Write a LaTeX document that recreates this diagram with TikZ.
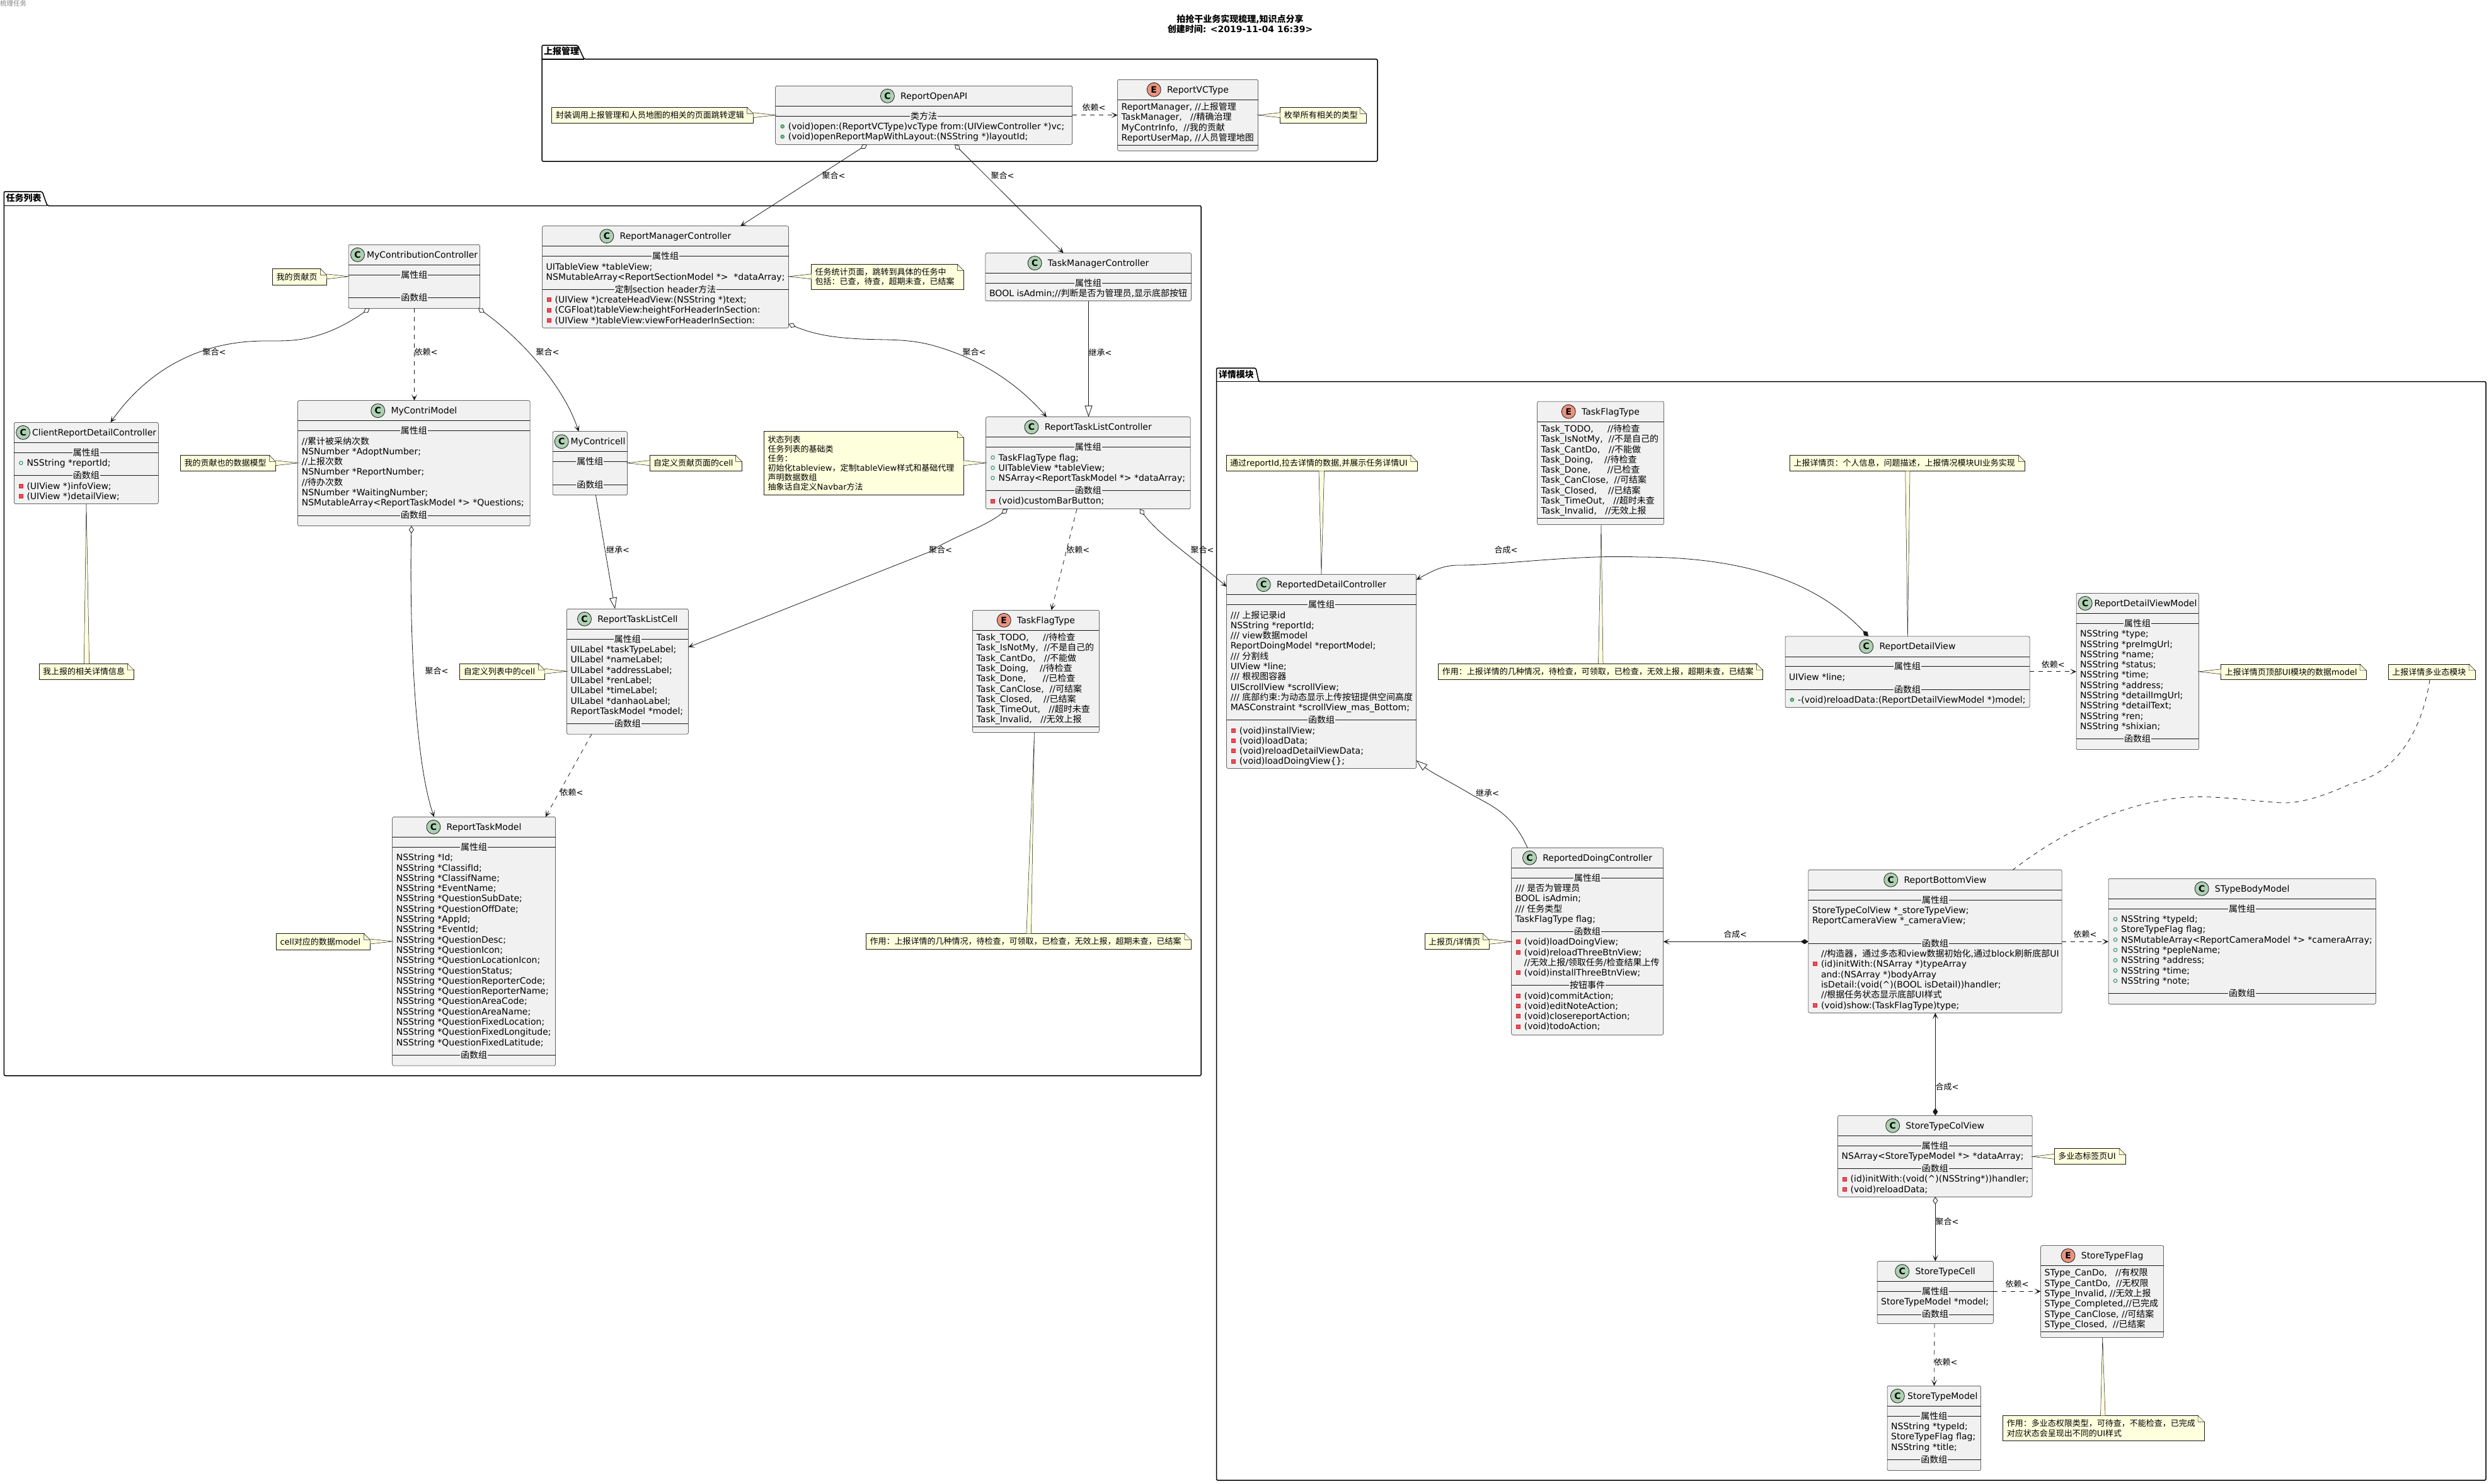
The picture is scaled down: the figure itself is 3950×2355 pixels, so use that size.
\documentclass[tikz,border=0pt]{standalone}
\usepackage{fontspec}
\usetikzlibrary{arrows.meta}
\setmainfont{DejaVu Sans}
\newfontfamily\cjkf{Noto Sans CJK SC}
% CJK characters switch to the CJK family automatically
\newXeTeXintercharclass\cjkclass
\newcount\cc
\cc="4E00 \loop\ifnum\cc<"A000 \XeTeXcharclass\cc=\cjkclass \advance\cc 1 \repeat
\cc="3000 \loop\ifnum\cc<"3040 \XeTeXcharclass\cc=\cjkclass \advance\cc 1 \repeat
\cc="FF00 \loop\ifnum\cc<"FFF0 \XeTeXcharclass\cc=\cjkclass \advance\cc 1 \repeat
\XeTeXinterchartoks 0 \cjkclass={\begingroup\cjkf}
\XeTeXinterchartoks 4095 \cjkclass={\begingroup\cjkf}
\XeTeXinterchartoks \cjkclass 0={\endgroup}
\XeTeXinterchartoks \cjkclass 4095={\endgroup}
\XeTeXinterchartokenstate=1

\definecolor{ln}{HTML}{181818}
\definecolor{boxf}{HTML}{F1F1F1}
\definecolor{notef}{HTML}{FEFFDD}
\definecolor{cgreen}{HTML}{ADD1B2}
\definecolor{cred}{HTML}{EB937F}
\definecolor{pubs}{HTML}{038048}
\definecolor{pubf}{HTML}{84BE84}
\definecolor{pris}{HTML}{C82930}
\definecolor{prif}{HTML}{F24D5C}
\newcommand\bodyf{\fontsize{14}{16.3}\selectfont}
\newcommand\notefn{\fontsize{13}{15.1}\selectfont}
\newcommand\ttlfn{\fontsize{14}{16.3}\selectfont\bfseries}

\tikzset{
  myhead/.tip={Stealth[length=10pt,width=9pt,inset=5.5pt]},
  odiam/.tip={Diamond[open,fill=white,length=12pt,width=8pt]},
  fdiam/.tip={Diamond[length=12pt,width=8pt]},
  tritip/.tip={Triangle[open,fill=white,length=18pt,width=12pt]},
  classbox/.style={draw=ln,fill=boxf,line width=.5pt,rounded corners=2.5pt,inner sep=0pt,outer sep=0pt,anchor=north west},
  thin line/.style={draw=ln,line width=.5pt},
  txt/.style={font=\bodyf,anchor=base west,inner sep=0pt,text=black},
  septxt/.style={font=\bodyf,anchor=base,inner xsep=1pt,inner ysep=0pt,text=black,fill=boxf},
  notebox/.style={draw=ln,fill=notef,line width=.5pt,inner sep=0pt,outer sep=0pt,anchor=north west},
  notetxt/.style={font=\notefn,anchor=west,inner sep=0pt,align=left,text=black},
  conn/.style={draw=ln,line width=.8pt},
  dashconn/.style={conn,dash pattern=on 7pt off 7pt},
  lbl/.style={font=\notefn,inner sep=0pt,text=black},
  pkg/.style={draw=black,line width=1.5pt,rounded corners=2pt},
  pkglbl/.style={font=\ttlfn,anchor=base west,inner sep=0pt,text=black},
}

\newcount\tcnt
\newcommand\stepn{\global\advance\tcnt by 1\relax}
\newcommand\umlhead[8]{% name x1 y1 x2 y2 fill letter title
  \pgfmathsetmacro\bw{#4-#2}\pgfmathsetmacro\bh{#5-#3}
  \node[classbox,minimum width=\bw pt,minimum height=\bh pt] (#1) at (#2,#3) {};
  \draw[thin line] (#2,#3+32) -- (#4,#3+32);
  \pgfinterruptpicture\setbox0=\hbox{\bodyf #8}\xdef\twv{\the\wd0}\endpgfinterruptpicture
  \pgfmathsetmacro\tw{\twv}
  \pgfmathsetmacro\hgap{3.4+min((\bw-\tw-32.5)/4,6.2)}
  \pgfmathsetmacro\hleft{(\bw-22-\hgap-\tw)/2}
  \stepn
  \node[circle,draw=ln,line width=.8pt,fill=#6,minimum size=22pt,inner sep=0pt,font=\fontsize{14}{14}\selectfont\bfseries] (t\the\tcnt) at (#2+\hleft+11,#3+16) {#7};
  \stepn
  \node[txt] (t\the\tcnt) at (#2+\hleft+22+\hgap,#3+21) {#8};
  \xdef\cx{#2}\xdef\cxr{#4}
  \pgfmathsetmacro\cmidv{(#2+#4)/2}\xdef\cmid{\cmidv}
}
\newcommand\classC[6]{\umlhead{#1}{#2}{#3}{#4}{#5}{cgreen}{C}{#6}\pgfmathsetmacro\tmp{#3+28}\xdef\cy{\tmp}}
\newcommand\classE[6]{\umlhead{#1}{#2}{#3}{#4}{#5}{cred}{E}{#6}\pgfmathsetmacro\tmp{#3+32-5.1}\xdef\cy{\tmp}}
\newcommand\advline{\pgfmathsetmacro\tmp{\cy+16.3}\xdef\cy{\tmp}}
\newcommand\advsep{\pgfmathsetmacro\tmp{\cy+20}\xdef\cy{\tmp}}
\newcommand\secA[1]{\advsep\draw[draw=ln,line width=.9pt] (\cx,\cy) -- (\cxr,\cy);\stepn\node[septxt] (t\the\tcnt) at (\cmid,\cy+5) {#1};}
\newcommand\secB[1]{\advsep\draw[thin line] (\cx,\cy) -- (\cxr,\cy);\stepn\node[septxt] (t\the\tcnt) at (\cmid,\cy+5) {#1};}
\newcommand\secEnd{\draw[thin line] (\cx,\cy+11.6) -- (\cxr,\cy+11.6);}
\newcommand\mBlank{\advline}
\newcommand\mPlain[1]{\advline\stepn\node[txt] (t\the\tcnt) at (\cx+6,\cy+5) {#1};}
\newcommand\mInd[1]{\advline\stepn\node[txt] (t\the\tcnt) at (\cx+20,\cy+5) {#1};}
\newcommand\mPubF[1]{\mInd{#1}\draw[draw=pubs,line width=.8pt] (\cx+11,\cy) circle (2.8pt);}
\newcommand\mPubM[1]{\mInd{#1}\draw[draw=pubs,fill=pubf,line width=.8pt] (\cx+11,\cy) circle (2.8pt);}
\newcommand\mPriv[1]{\mInd{#1}\draw[draw=pris,fill=prif,line width=.8pt] (\cx+8,\cy-3) rectangle (\cx+14,\cy+3);}

\newcommand\umlnote[6]{% name x1 y1 x2 y2 text
  \pgfmathsetmacro\bw{#4-#2}\pgfmathsetmacro\bh{#5-#3}
  \node[notebox,minimum width=\bw pt,minimum height=\bh pt] (#1) at (#2,#3) {};
  \fill[white] (#4-10,#3-1) -- (#4+1,#3-1) -- (#4+1,#3+10) -- cycle;
  \draw[thin line,fill=notef] (#4-10,#3) -- (#4,#3+10) -- (#4-10,#3+10) -- cycle;
  \node[notetxt] (#1t) at (#2+6,{(#3+#5)/2}) {#6};
}
\newcommand\tail[3]{\fill[notef] #1 -- #2 -- #3 -- cycle;\draw[thin line] #1 -- #2 -- #3;}
\newcommand\umlpkg[9]{% name x1 tabtop tabx1 tabx2 bodytop x2 y2 label
  \draw[pkg] (#2,#3) -- (#4,#3) -- (#5,#6) -- (#7,#6) -- (#7,#8) -- (#2,#8) -- cycle;
  \draw[draw=black,line width=1.5pt] (#2,#6) -- (#5,#6);
  \node[pkglbl] (#1) at (#2+3,#3+15) {#9};
}
\newcommand\lbl[4]{\node[lbl] (#1) at (#2,#3) {#4};}

\begin{document}
\begin{tikzpicture}[x=1pt,y=-1pt]
\useasboundingbox (0,0) rectangle (3950,2355);

\node[font=\fontsize{10.5}{12}\selectfont,text=gray,anchor=north west,inner sep=0pt] (corner) at (0,0) {梳理任务};
\node[font=\ttlfn,align=center,inner sep=0pt,anchor=base] (title) at (1968,52) {拍抢干业务实现梳理,知识点分享\\创建时间: <2019-11-04 16:39>};

\umlpkg{pkgA}{860}{72}{917}{927}{94}{2186}{256}{上报管理}
\umlpkg{pkgB}{6.4}{304}{67}{75}{326.5}{1906}{1707}{任务列表}
\umlpkg{pkgC}{1930.6}{584}{1993}{1997.6}{605.6}{3945}{2349}{详情模块}

% ---- 上报管理
\classC{api}{1230.7}{136.3}{1701.6}{229.3}{ReportOpenAPI}
\secB{类方法}
\mPubM{(void)open:(ReportVCType)vcType from:(UIViewController *)vc;}
\mPubM{(void)openReportMapWithLayout:(NSString *)layoutId;}

\classE{vct}{1773.5}{126.3}{1996.5}{239.3}{ReportVCType}
\mPlain{ReportManager, //上报管理}
\mPlain{TaskManager,~~~//精确治理}
\mPlain{MyContrInfo,~~//我的贡献}
\mPlain{ReportUserMap, //人员管理地图}
\secEnd

% ---- 任务列表
\classC{mcc}{553}{388.3}{761.5}{489.3}{MyContributionController}
\secA{属性组}
\mBlank
\secB{函数组}

\classC{crd}{22.3}{670.4}{251.3}{799.5}{ClientReportDetailController}
\secA{属性组}
\mPubF{NSString *reportId;}
\secB{函数组}
\mPriv{(UIView *)infoView;}
\mPriv{(UIView *)detailView;}

\classC{cm}{472.6}{635.7}{841.2}{834.7}{MyContriModel}
\secA{属性组}
\mPlain{//累计被采纳次数}
\mPlain{NSNumber *AdoptNumber;}
\mPlain{//上报次数}
\mPlain{NSNumber *ReportNumber;}
\mPlain{//待办次数}
\mPlain{NSNumber *WaitingNumber;}
\mPlain{NSMutableArray<ReportTaskModel *> *Questions;}
\secB{函数组}

\classC{ccl}{877}{684.7}{995.5}{785.7}{MyContricell}
\secA{属性组}
\mBlank
\secB{函数组}

\classC{rmc}{860.5}{358.7}{1251.5}{520.4}{ReportManagerController}
\secA{属性组}
\mPlain{UITableView *tableView;}
\mPlain{NSMutableArray<ReportSectionModel *>~~*dataArray;}
\secB{定制section header方法}
\mPriv{(UIView *)createHeadView:(NSString *)text;}
\mPriv{(CGFloat)tableView:heightForHeaderInSection:}
\mPriv{(UIView *)tableView:viewForHeaderInSection:}

\classC{tmc}{1563.8}{401.5}{1890.5}{477.6}{TaskManagerController}
\secA{属性组}
\mPlain{BOOL isAdmin;//判断是否为管理员,显示底部按钮}

\classC{tlc}{1564.5}{661.7}{1889}{807.7}{ReportTaskListController}
\secA{属性组}
\mPubF{TaskFlagType flag;}
\mPubF{UITableView *tableView;}
\mPubF{NSArray<ReportTaskModel *> *dataArray;}
\secB{函数组}
\mPriv{(void)customBarButton;}

\classC{tcell}{899.5}{966.3}{1092.4}{1165}{ReportTaskListCell}
\secA{属性组}
\mPlain{UILabel *taskTypeLabel;}
\mPlain{UILabel *nameLabel;}
\mPlain{UILabel *addressLabel;}
\mPlain{UILabel *renLabel;}
\mPlain{UILabel *timeLabel;}
\mPlain{UILabel *danhaoLabel;}
\mPlain{ReportTaskModel *model;}
\secB{函数组}

\classE{tfa}{1543.5}{968.3}{1744.4}{1162.5}{TaskFlagType}
\mPlain{Task\_TODO,~~~~~//待检查}
\mPlain{Task\_IsNotMy,~~//不是自己的}
\mPlain{Task\_CantDo,~~~//不能做}
\mPlain{Task\_Doing,~~~~//待检查}
\mPlain{Task\_Done,~~~~~~//已检查}
\mPlain{Task\_CanClose,~~//可结案}
\mPlain{Task\_Closed,~~~~//已结案}
\mPlain{Task\_TimeOut,~~~//超时未查}
\mPlain{Task\_Invalid,~~~//无效上报}
\secEnd

\classC{rtm}{622.6}{1296.4}{881.5}{1691.2}{ReportTaskModel}
\secA{属性组}
\mPlain{NSString *Id;}
\mPlain{NSString *ClassifId;}
\mPlain{NSString *ClassifName;}
\mPlain{NSString *EventName;}
\mPlain{NSString *QuestionSubDate;}
\mPlain{NSString *QuestionOffDate;}
\mPlain{NSString *AppId;}
\mPlain{NSString *EventId;}
\mPlain{NSString *QuestionDesc;}
\mPlain{NSString *QuestionIcon;}
\mPlain{NSString *QuestionLocationIcon;}
\mPlain{NSString *QuestionStatus;}
\mPlain{NSString *QuestionReporterCode;}
\mPlain{NSString *QuestionReporterName;}
\mPlain{NSString *QuestionAreaCode;}
\mPlain{NSString *QuestionAreaName;}
\mPlain{NSString *QuestionFixedLocation;}
\mPlain{NSString *QuestionFixedLongitude;}
\mPlain{NSString *QuestionFixedLatitude;}
\secB{函数组}

% ---- 详情模块
\classC{rdc}{1946.6}{911.7}{2247.6}{1219.4}{ReportedDetailController}
\secA{属性组}
\mPlain{/// 上报记录id}
\mPlain{NSString *reportId;}
\mPlain{/// view数据model}
\mPlain{ReportDoingModel *reportModel;}
\mPlain{/// 分割线}
\mPlain{UIView *line;}
\mPlain{/// 根视图容器}
\mPlain{UIScrollView *scrollView;}
\mPlain{/// 底部约束:为动态显示上传按钮提供空间高度}
\mPlain{MASConstraint *scrollView\_mas\_Bottom;}
\secB{函数组}
\mPriv{(void)installView;}
\mPriv{(void)loadData;}
\mPriv{(void)reloadDetailViewData;}
\mPriv{(void)loadDoingView\{\};}

\classE{tfb}{2439.5}{637.2}{2640.4}{832.7}{TaskFlagType}
\mPlain{Task\_TODO,~~~~~//待检查}
\mPlain{Task\_IsNotMy,~~//不是自己的}
\mPlain{Task\_CantDo,~~~//不能做}
\mPlain{Task\_Doing,~~~~//待检查}
\mPlain{Task\_Done,~~~~~~//已检查}
\mPlain{Task\_CanClose,~~//可结案}
\mPlain{Task\_Closed,~~~~//已结案}
\mPlain{Task\_TimeOut,~~~//超时未查}
\mPlain{Task\_Invalid,~~~//无效上报}
\secEnd

\classC{rdv}{2833}{1009.8}{3221}{1122.7}{ReportDetailView}
\secA{属性组}
\mPlain{UIView *line;}
\secB{函数组}
\mPubM{-(void)reloadData:(ReportDetailViewModel *)model;}

\classC{rdvm}{3295}{941.4}{3489.4}{1189.7}{ReportDetailViewModel}
\secA{属性组}
\mPlain{NSString *type;}
\mPlain{NSString *preImgUrl;}
\mPlain{NSString *name;}
\mPlain{NSString *status;}
\mPlain{NSString *time;}
\mPlain{NSString *address;}
\mPlain{NSString *detailImgUrl;}
\mPlain{NSString *detailText;}
\mPlain{NSString *ren;}
\mPlain{NSString *shixian;}
\secB{函数组}

\classC{rdo}{2398.6}{1345.3}{2639.7}{1642.3}{ReportedDoingController}
\secA{属性组}
\mPlain{/// 是否为管理员}
\mPlain{BOOL isAdmin;}
\mPlain{/// 任务类型}
\mPlain{TaskFlagType flag;}
\secB{函数组}
\mPriv{(void)loadDoingView;}
\mPriv{(void)reloadThreeBtnView;}
\mInd{//无效上报/领取任务/检查结果上传}
\mPriv{(void)installThreeBtnView;}
\secA{按钮事件}
\mPriv{(void)commitAction;}
\mPriv{(void)editNoteAction;}
\mPriv{(void)closereportAction;}
\mPriv{(void)todoAction;}

\classC{rbv}{2869.8}{1380.3}{3272.2}{1607.3}{ReportBottomView}
\secA{属性组}
\mPlain{StoreTypeColView *\_storeTypeView;}
\mPlain{ReportCameraView *\_cameraView;}
\mBlank
\secB{函数组}
\mInd{//构造器，通过多态和view数据初始化,通过block刷新底部UI}
\mPriv{(id)initWith:(NSArray *)typeArray}
\mInd{and:(NSArray *)bodyArray}
\mInd{isDetail:(void(\char"5E)(BOOL isDetail))handler;}
\mInd{//根据任务状态显示底部UI样式}
\mPriv{(void)show:(TaskFlagType)type;}

\classC{stb}{3346}{1394.3}{3770.3}{1593.3}{STypeBodyModel}
\secA{属性组}
\mPubF{NSString *typeId;}
\mPubF{StoreTypeFlag flag;}
\mPubF{NSMutableArray<ReportCameraModel *> *cameraArray;}
\mPubF{NSString *pepleName;}
\mPubF{NSString *address;}
\mPubF{NSString *time;}
\mPubF{NSString *note;}
\secB{函数组}

\classC{stcv}{2916.5}{1770.3}{3225}{1899.3}{StoreTypeColView}
\secA{属性组}
\mPlain{NSArray<StoreTypeModel *> *dataArray;}
\secB{函数组}
\mPriv{(id)initWith:(void(\char"5E)(NSString*))handler;}
\mPriv{(void)reloadData;}

\classC{stc}{2979}{2001.5}{3163.3}{2100.6}{StoreTypeCell}
\secA{属性组}
\mPlain{StoreTypeModel *model;}
\secB{函数组}

\classE{stf}{3238.5}{1976.6}{3433.7}{2122.7}{StoreTypeFlag}
\mPlain{SType\_CanDo,~~~//有权限}
\mPlain{SType\_CantDo,~~//无权限}
\mPlain{SType\_Invalid, //无效上报}
\mPlain{SType\_Completed,//已完成}
\mPlain{SType\_CanClose, //可结案}
\mPlain{SType\_Closed,~~//已结案}
\secEnd

\classC{stm}{2995}{2199.3}{3143.5}{2333.6}{StoreTypeModel}
\secA{属性组}
\mPlain{NSString *typeId;}
\mPlain{StoreTypeFlag flag;}
\mPlain{NSString *title;}
\secB{函数组}

% ---- notes
\umlnote{na}{875.7}{170.3}{1195.6}{195.7}{封装调用上报管理和人员地图的相关的页面跳转逻辑}
\tail{(na.east |- 0,178.7)}{(api.west |- 0,182.7)}{(na.east |- 0,186.7)}
\umlnote{nb}{2031.7}{170.3}{2168}{195.7}{枚举所有相关的类型}
\tail{(nb.west |- 0,178.7)}{(vct.east |- 0,182.7)}{(nb.west |- 0,186.7)}
\umlnote{nc}{432.4}{426.5}{518.5}{452.6}{我的贡献页}
\tail{(nc.east |- 0,434.8)}{(mcc.west |- 0,438.8)}{(nc.east |- 0,442.8)}
\umlnote{nd}{286.4}{722.4}{437.5}{747.4}{我的贡献也的数据模型}
\tail{(nd.east |- 0,730.7)}{(cm.west |- 0,734.7)}{(nd.east |- 0,738.7)}
\umlnote{ne}{61.9}{1053}{212.4}{1078.6}{我上报的相关详情信息}
\tail{(133.3,0 |- ne.north)}{(137,0 |- crd.south)}{(141.6,0 |- ne.north)}
\umlnote{nf}{729.6}{1053}{864.3}{1078.6}{自定义列表中的cell}
\tail{(nf.east |- 0,1061.3)}{(tcell.west |- 0,1065.3)}{(nf.east |- 0,1069.3)}
\umlnote{ng}{438.3}{1481.4}{587.5}{1506.9}{cell对应的数据model}
\tail{(ng.east |- 0,1490)}{(rtm.west |- 0,1494)}{(ng.east |- 0,1498)}
\umlnote{nh}{1031}{722.4}{1177.3}{747.4}{自定义贡献页面的cell}
\tail{(nh.west |- 0,730.7)}{(ccl.east |- 0,734.7)}{(nh.west |- 0,738.7)}
\umlnote{ni}{1287.5}{419.4}{1529.3}{459.7}{任务统计页面，跳转到具体的任务中\\包括：已查，待查，超期未查，已结案}
\tail{(ni.west |- 0,434.8)}{(rmc.east |- 0,438.8)}{(ni.west |- 0,442.8)}
\umlnote{nj}{1212.5}{684.7}{1529.3}{785.7}{状态列表\\任务列表的基础类\\任务：\\初始化tableview，定制tableView样式和基础代理\\声明数据数组\\抽象话自定义Navbar方法}
\tail{(nj.east |- 0,730.7)}{(tlc.west |- 0,734.7)}{(nj.east |- 0,738.7)}
\umlnote{nk}{1374.5}{1481.3}{1889.9}{1506}{作用：上报详情的几种情况，待检查，可领取，已检查，无效上报，超期未查，已结案}
\tail{(1628.9,0 |- nk.north)}{(1641.5,0 |- tfa.south)}{(1636.5,0 |- nk.north)}
\umlnote{nl}{1946}{722.4}{2248.9}{747.4}{通过reportId,拉去详情的数据,并展示任务详情UI}
\tail{(2093,0 |- nl.south)}{(2097,0 |- rdc.north)}{(2101.5,0 |- nl.south)}
\umlnote{nm}{2282.7}{1053}{2797.3}{1078.6}{作用：上报详情的几种情况，待检查，可领取，已检查，无效上报，超期未查，已结案}
\tail{(2536.5,0 |- nm.north)}{(2541,0 |- tfb.south)}{(2544,0 |- nm.north)}
\umlnote{nn}{2840.3}{722.7}{3213.6}{747.6}{上报详情页：个人信息，问题描述，上报情况模块UI业务实现}
\tail{(3023.7,0 |- nn.south)}{(3027.4,0 |- rdv.north)}{(3031,0 |- nn.south)}
\umlnote{no}{3524.6}{1053.8}{3755}{1078.7}{上报详情页顶部UI模块的数据model}
\tail{(no.west |- 0,1061.8)}{(rdvm.east |- 0,1065.8)}{(no.west |- 0,1069.8)}
\umlnote{np}{3790}{1053.8}{3928}{1078.7}{上报详情多业态模块}
\umlnote{nq}{2260.8}{1481.7}{2363.5}{1506.7}{上报页/详情页}
\tail{(nq.east |- 0,1490.3)}{(rdo.west |- 0,1494.3)}{(nq.east |- 0,1498.3)}
\umlnote{nr}{3260.2}{1822.3}{3373}{1847.2}{多业态标签页UI}
\tail{(nr.west |- 0,1831.3)}{(stcv.east |- 0,1835.3)}{(nr.west |- 0,1839.3)}
\umlnote{ns}{3178.6}{2246.4}{3498}{2286.6}{作用：多业态权限类型，可待查，不能检查，已完成\\对应状态会呈现出不同的UI样式}
\tail{(3333.5,0 |- ns.north)}{(3336.7,0 |- stf.south)}{(3341,0 |- ns.north)}

% ---- connectors
\draw[conn,odiam-myhead] (1376,0 |- api.south) -- (1175,0 |- rmc.north);
\lbl{l1}{1323}{279}{聚合<}
\draw[conn,odiam-myhead] (1515,0 |- api.south) -- (1687.7,0 |- tmc.north);
\lbl{l2}{1591}{279}{聚合<}
\draw[dashconn,-myhead] (api.east |- 0,182.7) -- (vct.west |- 0,182.7);
\lbl{l3}{1736}{170.7}{依赖<}

\draw[conn,odiam-myhead] (586.7,0 |- mcc.south) .. controls (550,515) and (520,530) .. (484.7,537.2) .. controls (455,543) and (430,540) .. (408,541.3) .. controls (300,545) and (225,600) .. (175.4,0 |- crd.north);
\lbl{l4}{340}{559}{聚合<}
\draw[dashconn,-myhead] (657.5,0 |- mcc.south) -- (657.5,0 |- cm.north);
\lbl{l5}{676}{559}{依赖<}
\draw[conn,odiam-myhead] (759,0 |- mcc.south) .. controls (810,525) and (890,600) .. (918.4,0 |- ccl.north);
\lbl{l6}{869}{559}{聚合<}
\draw[conn,odiam-myhead] (rmc.east |- 0,514) .. controls (1290,530) and (1320,535) .. (1351,537) .. controls (1400,541) and (1440,535) .. (1490,551) .. controls (1570,575) and (1625,620) .. (1661,0 |- tlc.north);
\lbl{l7}{1546}{559}{聚合<}
\draw[conn,-tritip] (1727.5,0 |- tmc.south) -- (1727.5,0 |- tlc.north);
\lbl{l8}{1746}{559}{继承<}
\draw[conn,-tritip] (945.4,0 |- ccl.south) -- (976,0 |- tcell.north);
\lbl{l9}{980.6}{872.4}{继承<}
\draw[conn,odiam-myhead] (1599,0 |- tlc.south) .. controls (1560,838) and (1515,850) .. (1473.5,876.5) .. controls (1350,925) and (1220,977) .. (tcell.east |- 0,1027);
\lbl{l10}{1492.6}{872.4}{聚合<}
\draw[dashconn,-myhead] (1709,0 |- tlc.south) -- (1668.6,0 |- tfa.north);
\lbl{l11}{1710.7}{872.4}{依赖<}
\draw[conn,odiam-myhead] (1808.7,0 |- tlc.south) .. controls (1840,850) and (1900,890) .. (rdc.west |- 0,931);
\lbl{l12}{1908}{872.4}{聚合<}
\draw[conn,odiam-myhead] (653,0 |- cm.south) .. controls (650,960) and (655,1200) .. (688.9,0 |- rtm.north);
\lbl{l13}{693}{1065}{聚合<}
\draw[dashconn,-myhead] (939,0 |- tcell.south) -- (865.6,0 |- rtm.north);
\lbl{l14}{907}{1258}{依赖<}

\draw[conn,myhead-fdiam] (rdc.east |- 0,920) .. controls (2275,905) and (2290,897) .. (2314.5,897) .. controls (2380,897) and (2500,880) .. (2601.5,884) .. controls (2740,884) and (2870,910) .. (2965,0 |- rdv.north);
\lbl{l15}{2390}{872.4}{合成<}
\draw[conn,-tritip] (2424,0 |- rdo.north) .. controls (2400,1290) and (2365,1278) .. (2333.7,1260) .. controls (2300,1240) and (2270,1225) .. (rdc.east |- 0,1206.6);
\lbl{l16}{2360.5}{1258.7}{继承<}
\draw[conn,myhead-fdiam] (rdo.east |- 0,1494.3) -- (rbv.west |- 0,1494.3);
\lbl{l17}{2753.8}{1482.7}{合成<}
\draw[dashconn,-myhead] (rdv.east |- 0,1065.8) -- (rdvm.west |- 0,1065.8);
\lbl{l18}{3258.4}{1054.3}{依赖<}
\draw[dashconn,-myhead] (rbv.east |- 0,1494.3) -- (stb.west |- 0,1494.3);
\lbl{l19}{3309}{1482.3}{依赖<}
\draw[draw=ln,line width=.8pt,dash pattern=on 7pt off 7pt] (3856,0 |- np.south) .. controls (3845,1150) and (3810,1225) .. (3731,1243.8) .. controls (3690,1262) and (3650,1277) .. (3614,1273.5) .. controls (3560,1270) and (3510,1261) .. (3460,1266) .. controls (3350,1278) and (3260,1330) .. (3194.4,0 |- rbv.north);
\draw[conn,myhead-fdiam] (3071.3,0 |- rbv.south) -- (3071.3,0 |- stcv.north);
\lbl{l20}{3090}{1725}{合成<}
\draw[conn,odiam-myhead] (3071.3,0 |- stcv.south) -- (3071.3,0 |- stc.north);
\lbl{l21}{3090}{1938.3}{聚合<}
\draw[dashconn,-myhead] (stc.east |- 0,2049.3) -- (stf.west |- 0,2049.3);
\lbl{l22}{3201}{2038}{依赖<}
\draw[dashconn,-myhead] (3070,0 |- stc.south) -- (3069.5,0 |- stm.north);
\lbl{l23}{3088}{2161.4}{依赖<}
\end{tikzpicture}
\end{document}
